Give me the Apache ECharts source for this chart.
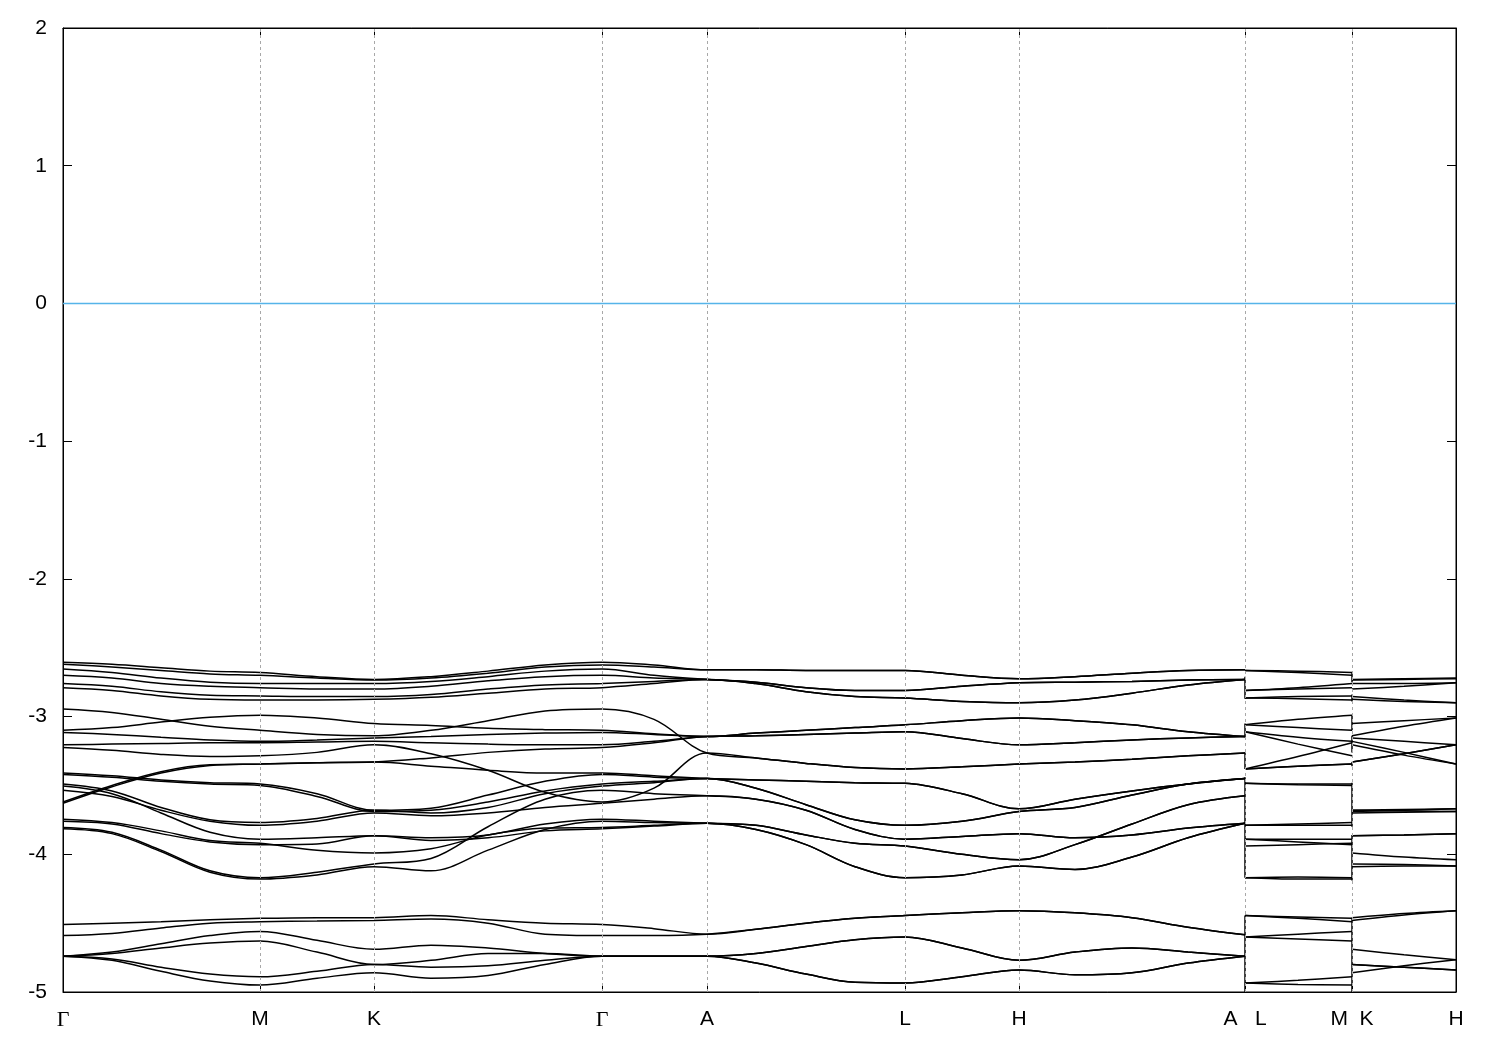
<!DOCTYPE html>
<html>
<head>
<meta charset="utf-8">
<script src="https://cdn.jsdelivr.net/npm/echarts@6/dist/echarts.min.js"></script>
<style>html,body{margin:0;padding:0;background:#fff;}#chart{width:1500px;height:1050px;}</style>
</head>
<body>
<div id="chart"></div>
<script>
// ---- k-path (arbitrary distance units along the path) ----
const kTicks = [0, 197, 311, 539, 644, 842, 956, 1182, 1289, 1393];
const kTickLabels = ['Γ', 'M', 'K', 'Γ', 'A', 'L', 'H', 'A   L', 'M  K', 'H'];
// sample points on Γ-M-K-Γ-A-L-H-A
const kPath = [0, 49, 98, 147, 197, 254, 311, 368, 425, 482, 539, 591, 644, 693, 743, 792, 842, 899, 956, 1012, 1069, 1125, 1182];
const kLM = [1182, 1235, 1289];   // L-M segment
const kKH = [1289, 1341, 1393];   // K-H segment

// ---- shared (degenerate) values along A-L-H-A ----
const pA12 = [-2.66, -2.66, -2.665, -2.665, -2.665, -2.70, -2.725, -2.71, -2.685, -2.665, -2.66];
const pA34 = [-2.73, -2.75, -2.79, -2.81, -2.81, -2.78, -2.755, -2.75, -2.745, -2.735, -2.73];
const pA56 = [-2.73, -2.76, -2.82, -2.855, -2.865, -2.89, -2.90, -2.88, -2.83, -2.77, -2.73];
const pBa = [-3.145, -3.12, -3.10, -3.08, -3.06, -3.03, -3.01, -3.03, -3.06, -3.11, -3.145];
const pBb = [-3.145, -3.14, -3.13, -3.12, -3.11, -3.16, -3.205, -3.19, -3.17, -3.155, -3.145];
const pBc = [-3.265, -3.30, -3.34, -3.37, -3.38, -3.365, -3.345, -3.33, -3.31, -3.285, -3.265];
const pCa = [-3.45, -3.46, -3.47, -3.48, -3.485, -3.56, -3.67, -3.60, -3.54, -3.49, -3.45];
const pCb = [-3.45, -3.52, -3.64, -3.75, -3.79, -3.76, -3.69, -3.66, -3.57, -3.49, -3.45];
const pCc = [-3.575, -3.60, -3.68, -3.82, -3.89, -3.87, -3.85, -3.88, -3.86, -3.81, -3.775];
const pCd = [-3.775, -3.79, -3.86, -3.92, -3.94, -4.00, -4.04, -3.93, -3.78, -3.64, -3.575];
const pCe = [-3.775, -3.82, -3.93, -4.09, -4.17, -4.15, -4.085, -4.11, -4.02, -3.88, -3.775];
const pD12 = [-4.58, -4.545, -4.50, -4.465, -4.445, -4.425, -4.41, -4.425, -4.46, -4.53, -4.585];
const pD34 = [-4.74, -4.72, -4.67, -4.62, -4.60, -4.68, -4.77, -4.71, -4.68, -4.71, -4.74];
const pD56 = [-4.74, -4.79, -4.87, -4.93, -4.935, -4.89, -4.84, -4.875, -4.86, -4.79, -4.74];

// ---- bands: Γ..A (12 values) + A-L-H-A (shared) + L-M (3) + K-H (3) ----
const bandA1 = [-2.605, -2.62, -2.645, -2.67, -2.68, -2.71, -2.73, -2.71, -2.67, -2.625, -2.605, -2.625, ...pA12, -2.665, -2.67, -2.68, -2.73, -2.725, -2.72];
const bandA2 = [-2.62, -2.64, -2.665, -2.69, -2.70, -2.72, -2.735, -2.72, -2.685, -2.64, -2.625, -2.64, ...pA12, -2.665, -2.68, -2.70, -2.735, -2.73, -2.725];
const bandA3 = [-2.655, -2.68, -2.72, -2.75, -2.76, -2.76, -2.76, -2.745, -2.71, -2.67, -2.655, -2.70, ...pA34, -2.81, -2.79, -2.76, -2.76, -2.76, -2.755];
const bandA4 = [-2.70, -2.72, -2.76, -2.78, -2.79, -2.80, -2.80, -2.78, -2.74, -2.71, -2.70, -2.72, ...pA34, -2.81, -2.80, -2.79, -2.80, -2.78, -2.755];
const bandA5 = [-2.76, -2.78, -2.82, -2.845, -2.85, -2.855, -2.855, -2.84, -2.80, -2.77, -2.76, -2.745, ...pA56, -2.865, -2.855, -2.85, -2.855, -2.88, -2.90];
const bandA6 = [-2.79, -2.81, -2.85, -2.875, -2.88, -2.88, -2.875, -2.86, -2.83, -2.80, -2.79, -2.76, ...pA56, -2.865, -2.87, -2.88, -2.875, -2.89, -2.90];

const bandB1 = [-2.945, -2.97, -3.02, -3.07, -3.10, -3.13, -3.14, -3.10, -3.03, -2.96, -2.945, -3.02, ...pBc, -3.06, -3.08, -3.10, -3.14, -3.07, -3.01];
const bandB2 = [-3.10, -3.08, -3.04, -3.005, -2.99, -3.01, -3.05, -3.065, -3.085, -3.095, -3.10, -3.125, ...pBa, -3.06, -3.02, -2.99, -3.05, -3.03, -3.01];
const bandB3 = [-3.115, -3.13, -3.15, -3.17, -3.18, -3.17, -3.155, -3.145, -3.13, -3.12, -3.115, -3.13, ...pBa, -3.11, -3.15, -3.18, -3.155, -3.18, -3.205];
const bandB4 = [-3.205, -3.20, -3.195, -3.19, -3.19, -3.185, -3.18, -3.19, -3.20, -3.205, -3.205, -3.18, ...pBb, -3.38, -3.29, -3.19, -3.18, -3.26, -3.345];
const bandB5 = [-3.225, -3.245, -3.275, -3.29, -3.285, -3.26, -3.205, -3.27, -3.39, -3.55, -3.62, -3.52, ...pBc, -3.11, -3.20, -3.285, -3.205, -3.28, -3.345];
const bandR1 = [-3.62, -3.50, -3.40, -3.35, -3.345, -3.335, -3.33, -3.30, -3.26, -3.235, -3.225, -3.19, ...pBb, -3.38, -3.36, -3.345, -3.33, -3.27, -3.205];
const bandR2 = [-3.63, -3.51, -3.41, -3.355, -3.345, -3.335, -3.33, -3.36, -3.39, -3.41, -3.41, -3.43, ...pCa, -3.38, -3.36, -3.345, -3.33, -3.27, -3.205];

const bandC1 = [-3.41, -3.43, -3.46, -3.48, -3.49, -3.56, -3.68, -3.665, -3.57, -3.47, -3.42, -3.44, ...pCa, -3.485, -3.49, -3.49, -3.68, -3.675, -3.67];
const bandC2 = [-3.42, -3.44, -3.47, -3.49, -3.50, -3.58, -3.69, -3.68, -3.62, -3.54, -3.49, -3.47, ...pCb, -3.485, -3.495, -3.50, -3.69, -3.68, -3.67];
const bandC3 = [-3.49, -3.54, -3.66, -3.75, -3.77, -3.74, -3.68, -3.70, -3.66, -3.56, -3.505, -3.48, ...pCb, -3.79, -3.78, -3.77, -3.68, -3.685, -3.69];
const bandC4 = [-3.535, -3.58, -3.68, -3.76, -3.79, -3.76, -3.70, -3.72, -3.70, -3.66, -3.63, -3.60, ...pCc, -3.79, -3.79, -3.79, -3.70, -3.695, -3.69];
const bandC5 = [-3.505, -3.56, -3.70, -3.84, -3.89, -3.88, -3.865, -3.88, -3.86, -3.78, -3.745, -3.76, ...pCd, -3.89, -3.89, -3.89, -3.865, -3.86, -3.85];
const bandC6 = [-3.745, -3.77, -3.83, -3.90, -3.92, -3.97, -3.99, -3.96, -3.86, -3.81, -3.805, -3.79, ...pCe, -3.94, -3.93, -3.92, -3.99, -4.02, -4.04];
const bandC7 = [-3.76, -3.78, -3.85, -3.91, -3.93, -3.925, -3.865, -3.90, -3.88, -3.83, -3.815, -3.795, ...pCe, -3.89, -3.91, -3.93, -3.865, -3.86, -3.85];
const bandC8 = [-3.805, -3.84, -3.97, -4.12, -4.17, -4.13, -4.07, -4.03, -3.80, -3.60, -3.535, -3.56, ...pCc, -4.17, -4.165, -4.17, -4.07, -4.075, -4.085];
const bandC9 = [-3.815, -3.85, -3.98, -4.13, -4.18, -4.15, -4.09, -4.12, -3.97, -3.82, -3.76, -3.77, ...pCd, -4.17, -4.18, -4.18, -4.09, -4.085, -4.085];

const bandD1 = [-4.51, -4.50, -4.49, -4.475, -4.465, -4.46, -4.46, -4.445, -4.475, -4.50, -4.51, -4.54, ...pD12, -4.445, -4.455, -4.465, -4.46, -4.43, -4.41];
const bandD2 = [-4.59, -4.575, -4.535, -4.50, -4.49, -4.485, -4.48, -4.47, -4.50, -4.58, -4.59, -4.59, ...pD12, -4.445, -4.465, -4.49, -4.48, -4.44, -4.41];
const bandD3 = [-4.74, -4.71, -4.65, -4.59, -4.56, -4.625, -4.69, -4.66, -4.68, -4.72, -4.74, -4.74, ...pD34, -4.60, -4.58, -4.56, -4.69, -4.73, -4.765];
const bandD4 = [-4.74, -4.72, -4.68, -4.645, -4.63, -4.71, -4.80, -4.77, -4.72, -4.72, -4.74, -4.74, ...pD34, -4.60, -4.615, -4.63, -4.80, -4.82, -4.84];
const bandD5 = [-4.74, -4.76, -4.82, -4.87, -4.89, -4.85, -4.80, -4.82, -4.81, -4.77, -4.74, -4.74, ...pD56, -4.935, -4.915, -4.89, -4.80, -4.82, -4.84];
const bandD6 = [-4.74, -4.77, -4.85, -4.92, -4.95, -4.90, -4.86, -4.90, -4.88, -4.80, -4.74, -4.74, ...pD56, -4.935, -4.945, -4.95, -4.86, -4.81, -4.765];

// vertical jumps at the path discontinuities A|L and M|K (energy spans)
const jumpAL = [[-2.71, -2.87], [-3.05, -3.15], [-3.26, -3.38], [-3.44, -4.17], [-4.445, -5.0]];
const jumpMK = [[-2.68, -2.75], [-2.84, -2.89], [-2.99, -3.10], [-3.14, -3.26], [-3.33, -3.36], [-3.48, -3.80], [-3.86, -4.19], [-4.46, -5.0]];

const fermi = [0, 0];

const bandList = [bandA1, bandA2, bandA3, bandA4, bandA5, bandA6,
  bandB1, bandB2, bandB3, bandB4, bandB5, bandR1, bandR2,
  bandC1, bandC2, bandC3, bandC4, bandC5, bandC6, bandC7, bandC8, bandC9,
  bandD1, bandD2, bandD3, bandD4, bandD5, bandD6];

// ---- build series ----
const lineStyle = { color: '#000', width: 1.5 };
const series = [];
series.push({
  type: 'line', data: [[kTicks[0], fermi[0]], [kTicks[kTicks.length - 1], fermi[1]]],
  showSymbol: false, silent: true, z: 1,
  lineStyle: { color: '#56b4e9', width: 1.5 },
  markLine: {
    silent: true, symbol: 'none', label: { show: false },
    lineStyle: { color: '#a8a8a8', width: 1, type: [3, 3] },
    data: kTicks.slice(1, -1).map(v => ({ xAxis: v }))
  }
});
function zip(xs, ys) { return xs.map((x, i) => [x, ys[i]]); }
bandList.forEach(b => {
  const segs = [zip(kPath, b.slice(0, 23)), zip(kLM, b.slice(23, 26)), zip(kKH, b.slice(26, 29))];
  segs.forEach(d => series.push({
    type: 'line', data: d, smooth: 0.35, showSymbol: false, silent: true, z: 3, lineStyle
  }));
});
jumpAL.forEach(s => series.push({ type: 'line', data: [[kTicks[7], s[0]], [kTicks[7], s[1]]], showSymbol: false, silent: true, z: 3, lineStyle }));
jumpMK.forEach(s => series.push({ type: 'line', data: [[kTicks[8], s[0]], [kTicks[8], s[1]]], showSymbol: false, silent: true, z: 3, lineStyle }));

const labelMap = {};
kTicks.forEach((k, i) => labelMap[k] = kTickLabels[i]);

const font = 'Liberation Sans, Arial, sans-serif';
const chart = echarts.init(document.getElementById('chart'), null, { renderer: 'canvas' });
chart.setOption({
  animation: false,
  backgroundColor: '#fff',
  grid: { left: 63, right: 44, top: 28, bottom: 58, show: true, borderColor: '#000', borderWidth: 1, containLabel: false },
  xAxis: [{
    type: 'value', min: kTicks[0], max: kTicks[kTicks.length - 1], position: 'bottom',
    axisLine: { show: true, onZero: false, lineStyle: { color: '#000', width: 1 } },
    axisTick: { show: true, inside: true, length: 9, customValues: kTicks, lineStyle: { color: '#000' } },
    axisLabel: {
      show: true, customValues: kTicks, margin: 17, color: '#000', fontSize: 21, fontFamily: font,
      formatter: v => { const t = labelMap[v]; return t === 'Γ' ? '{g|Γ}' : t; },
      rich: { g: { fontFamily: 'Liberation Serif, DejaVu Serif, serif', fontSize: 22, color: '#000' } }
    },
    splitLine: { show: false }
  }, {
    type: 'value', min: kTicks[0], max: kTicks[kTicks.length - 1], position: 'top',
    axisLine: { show: true, onZero: false, lineStyle: { color: '#000' } },
    axisTick: { show: true, inside: true, length: 9, customValues: kTicks, lineStyle: { color: '#000' } },
    axisLabel: { show: false }, splitLine: { show: false }
  }],
  yAxis: [{
    type: 'value', min: -5, max: 2, interval: 1, position: 'left',
    axisLine: { show: true, onZero: false, lineStyle: { color: '#000' } },
    axisTick: { show: true, inside: true, length: 9, lineStyle: { color: '#000' } },
    axisLabel: { color: '#000', fontSize: 21, fontFamily: font, margin: 16 },
    splitLine: { show: false }
  }, {
    type: 'value', min: -5, max: 2, interval: 1, position: 'right',
    axisLine: { show: true, onZero: false, lineStyle: { color: '#000' } },
    axisTick: { show: true, inside: true, length: 9, lineStyle: { color: '#000' } },
    axisLabel: { show: false }, splitLine: { show: false }
  }],
  series: series
});
</script>
</body>
</html>
